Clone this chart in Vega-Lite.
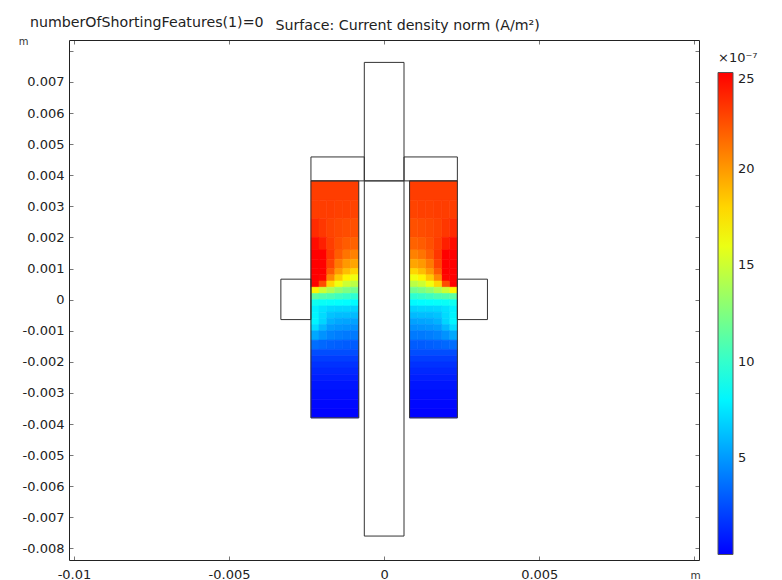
{"$schema":"https://vega.github.io/schema/vega-lite/v6.json","width":630,"height":520,"autosize":"none","padding":{"left":69,"top":40,"right":83,"bottom":20},"background":"white","view":{"stroke":null},
"title":{"text":"numberOfShortingFeatures(1)=0","anchor":"start","frame":"group","dx":-39,"dy":22,"offset":10,"font":"DejaVu Sans","fontSize":14.2,"fontWeight":"normal","color":"#222"},
"config":{"font":"DejaVu Sans"},
"layer":[
{"data":{"values":[
{"a":-0.00236,"b":-0.00082,"c":0.00382,"d":0.0032,"v":23},
{"a":-0.00236,"b":-0.0021,"c":0.0032,"d":0.0026,"v":23},{"a":-0.0021,"b":-0.00185,"c":0.0032,"d":0.0026,"v":23},{"a":-0.00185,"b":-0.00159,"c":0.0032,"d":0.0026,"v":23},{"a":-0.00159,"b":-0.00133,"c":0.0032,"d":0.0026,"v":22.9},{"a":-0.00133,"b":-0.00108,"c":0.0032,"d":0.0026,"v":22.9},{"a":-0.00108,"b":-0.00082,"c":0.0032,"d":0.0026,"v":22.8},
{"a":-0.00236,"b":-0.0021,"c":0.0026,"d":0.002,"v":23.6},{"a":-0.0021,"b":-0.00185,"c":0.0026,"d":0.002,"v":23.2},{"a":-0.00185,"b":-0.00159,"c":0.0026,"d":0.002,"v":22.8},{"a":-0.00159,"b":-0.00133,"c":0.0026,"d":0.002,"v":22.6},{"a":-0.00133,"b":-0.00108,"c":0.0026,"d":0.002,"v":22.5},{"a":-0.00108,"b":-0.00082,"c":0.0026,"d":0.002,"v":22.4},
{"a":-0.00236,"b":-0.0021,"c":0.002,"d":0.0016,"v":24.6},{"a":-0.0021,"b":-0.00185,"c":0.002,"d":0.0016,"v":24},{"a":-0.00185,"b":-0.00159,"c":0.002,"d":0.0016,"v":23},{"a":-0.00159,"b":-0.00133,"c":0.002,"d":0.0016,"v":22.4},{"a":-0.00133,"b":-0.00108,"c":0.002,"d":0.0016,"v":22},{"a":-0.00108,"b":-0.00082,"c":0.002,"d":0.0016,"v":21.8},
{"a":-0.00236,"b":-0.0021,"c":0.0016,"d":0.0013,"v":25},{"a":-0.0021,"b":-0.00185,"c":0.0016,"d":0.0013,"v":25},{"a":-0.00185,"b":-0.00159,"c":0.0016,"d":0.0013,"v":23.2},{"a":-0.00159,"b":-0.00133,"c":0.0016,"d":0.0013,"v":22},{"a":-0.00133,"b":-0.00108,"c":0.0016,"d":0.0013,"v":21.2},{"a":-0.00108,"b":-0.00082,"c":0.0016,"d":0.0013,"v":20.8},
{"a":-0.00236,"b":-0.0021,"c":0.0013,"d":0.001,"v":25},{"a":-0.0021,"b":-0.00185,"c":0.0013,"d":0.001,"v":25},{"a":-0.00185,"b":-0.00159,"c":0.0013,"d":0.001,"v":22.8},{"a":-0.00159,"b":-0.00133,"c":0.0013,"d":0.001,"v":21},{"a":-0.00133,"b":-0.00108,"c":0.0013,"d":0.001,"v":20},{"a":-0.00108,"b":-0.00082,"c":0.0013,"d":0.001,"v":19.6},
{"a":-0.00236,"b":-0.0021,"c":0.001,"d":0.0008,"v":25},{"a":-0.0021,"b":-0.00185,"c":0.001,"d":0.0008,"v":25},{"a":-0.00185,"b":-0.00159,"c":0.001,"d":0.0008,"v":22},{"a":-0.00159,"b":-0.00133,"c":0.001,"d":0.0008,"v":20},{"a":-0.00133,"b":-0.00108,"c":0.001,"d":0.0008,"v":18.8},{"a":-0.00108,"b":-0.00082,"c":0.001,"d":0.0008,"v":18},
{"a":-0.00236,"b":-0.0021,"c":0.0008,"d":0.0006,"v":25},{"a":-0.0021,"b":-0.00185,"c":0.0008,"d":0.0006,"v":24.8},{"a":-0.00185,"b":-0.00159,"c":0.0008,"d":0.0006,"v":20.6},{"a":-0.00159,"b":-0.00133,"c":0.0008,"d":0.0006,"v":18.4},{"a":-0.00133,"b":-0.00108,"c":0.0008,"d":0.0006,"v":17},{"a":-0.00108,"b":-0.00082,"c":0.0008,"d":0.0006,"v":16.2},
{"a":-0.00236,"b":-0.0021,"c":0.0006,"d":0.0004,"v":25},{"a":-0.0021,"b":-0.00185,"c":0.0006,"d":0.0004,"v":22.5},{"a":-0.00185,"b":-0.00159,"c":0.0006,"d":0.0004,"v":18},{"a":-0.00159,"b":-0.00133,"c":0.0006,"d":0.0004,"v":16.2},{"a":-0.00133,"b":-0.00108,"c":0.0006,"d":0.0004,"v":15},{"a":-0.00108,"b":-0.00082,"c":0.0006,"d":0.0004,"v":14.4},
{"a":-0.00236,"b":-0.0021,"c":0.0004,"d":0.0002,"v":17},{"a":-0.0021,"b":-0.00185,"c":0.0004,"d":0.0002,"v":15},{"a":-0.00185,"b":-0.00159,"c":0.0004,"d":0.0002,"v":14},{"a":-0.00159,"b":-0.00133,"c":0.0004,"d":0.0002,"v":13},{"a":-0.00133,"b":-0.00108,"c":0.0004,"d":0.0002,"v":12.4},{"a":-0.00108,"b":-0.00082,"c":0.0004,"d":0.0002,"v":12},
{"a":-0.00236,"b":-0.0021,"c":0.0002,"d":0,"v":11.4},{"a":-0.0021,"b":-0.00185,"c":0.0002,"d":0,"v":11},{"a":-0.00185,"b":-0.00159,"c":0.0002,"d":0,"v":10.8},{"a":-0.00159,"b":-0.00133,"c":0.0002,"d":0,"v":10.4},{"a":-0.00133,"b":-0.00108,"c":0.0002,"d":0,"v":10.1},{"a":-0.00108,"b":-0.00082,"c":0.0002,"d":0,"v":9.8},
{"a":-0.00236,"b":-0.0021,"c":0,"d":-0.0002,"v":8.8},{"a":-0.0021,"b":-0.00185,"c":0,"d":-0.0002,"v":8.6},{"a":-0.00185,"b":-0.00159,"c":0,"d":-0.0002,"v":8.5},{"a":-0.00159,"b":-0.00133,"c":0,"d":-0.0002,"v":8.4},{"a":-0.00133,"b":-0.00108,"c":0,"d":-0.0002,"v":8.3},{"a":-0.00108,"b":-0.00082,"c":0,"d":-0.0002,"v":8.2},
{"a":-0.00236,"b":-0.0021,"c":-0.0002,"d":-0.0004,"v":7.9},{"a":-0.0021,"b":-0.00185,"c":-0.0002,"d":-0.0004,"v":7.4},{"a":-0.00185,"b":-0.00159,"c":-0.0002,"d":-0.0004,"v":7.1},{"a":-0.00159,"b":-0.00133,"c":-0.0002,"d":-0.0004,"v":7},{"a":-0.00133,"b":-0.00108,"c":-0.0002,"d":-0.0004,"v":7},{"a":-0.00108,"b":-0.00082,"c":-0.0002,"d":-0.0004,"v":6.9},
{"a":-0.00236,"b":-0.0021,"c":-0.0004,"d":-0.0006,"v":8},{"a":-0.0021,"b":-0.00185,"c":-0.0004,"d":-0.0006,"v":7.2},{"a":-0.00185,"b":-0.00159,"c":-0.0004,"d":-0.0006,"v":6.4},{"a":-0.00159,"b":-0.00133,"c":-0.0004,"d":-0.0006,"v":6.2},{"a":-0.00133,"b":-0.00108,"c":-0.0004,"d":-0.0006,"v":6.2},{"a":-0.00108,"b":-0.00082,"c":-0.0004,"d":-0.0006,"v":6.1},
{"a":-0.00236,"b":-0.0021,"c":-0.0006,"d":-0.0008,"v":8},{"a":-0.0021,"b":-0.00185,"c":-0.0006,"d":-0.0008,"v":7},{"a":-0.00185,"b":-0.00159,"c":-0.0006,"d":-0.0008,"v":5.8},{"a":-0.00159,"b":-0.00133,"c":-0.0006,"d":-0.0008,"v":5.5},{"a":-0.00133,"b":-0.00108,"c":-0.0006,"d":-0.0008,"v":5.4},{"a":-0.00108,"b":-0.00082,"c":-0.0006,"d":-0.0008,"v":5.3},
{"a":-0.00236,"b":-0.0021,"c":-0.0008,"d":-0.001,"v":7.2},{"a":-0.0021,"b":-0.00185,"c":-0.0008,"d":-0.001,"v":6},{"a":-0.00185,"b":-0.00159,"c":-0.0008,"d":-0.001,"v":5.1},{"a":-0.00159,"b":-0.00133,"c":-0.0008,"d":-0.001,"v":4.9},{"a":-0.00133,"b":-0.00108,"c":-0.0008,"d":-0.001,"v":4.8},{"a":-0.00108,"b":-0.00082,"c":-0.0008,"d":-0.001,"v":4.7},
{"a":-0.00236,"b":-0.0021,"c":-0.001,"d":-0.0013,"v":5.5},{"a":-0.0021,"b":-0.00185,"c":-0.001,"d":-0.0013,"v":4.8},{"a":-0.00185,"b":-0.00159,"c":-0.001,"d":-0.0013,"v":4.3},{"a":-0.00159,"b":-0.00133,"c":-0.001,"d":-0.0013,"v":4.1},{"a":-0.00133,"b":-0.00108,"c":-0.001,"d":-0.0013,"v":4},{"a":-0.00108,"b":-0.00082,"c":-0.001,"d":-0.0013,"v":4},
{"a":-0.00236,"b":-0.0021,"c":-0.0013,"d":-0.0016,"v":3.6},{"a":-0.0021,"b":-0.00185,"c":-0.0013,"d":-0.0016,"v":3.4},{"a":-0.00185,"b":-0.00159,"c":-0.0013,"d":-0.0016,"v":3.2},{"a":-0.00159,"b":-0.00133,"c":-0.0013,"d":-0.0016,"v":3.1},{"a":-0.00133,"b":-0.00108,"c":-0.0013,"d":-0.0016,"v":3},{"a":-0.00108,"b":-0.00082,"c":-0.0013,"d":-0.0016,"v":3},
{"a":-0.00236,"b":-0.00082,"c":-0.0016,"d":-0.0018,"v":2.5},
{"a":-0.00236,"b":-0.00082,"c":-0.0018,"d":-0.002,"v":2},
{"a":-0.00236,"b":-0.00082,"c":-0.002,"d":-0.0022,"v":1.6},
{"a":-0.00236,"b":-0.00082,"c":-0.0022,"d":-0.0024,"v":1.3},
{"a":-0.00236,"b":-0.00082,"c":-0.0024,"d":-0.0026,"v":1},
{"a":-0.00236,"b":-0.00082,"c":-0.0026,"d":-0.0029,"v":0.7},
{"a":-0.00236,"b":-0.00082,"c":-0.0029,"d":-0.0032,"v":0.45},
{"a":-0.00236,"b":-0.00082,"c":-0.0032,"d":-0.0035,"v":0.25},
{"a":-0.00236,"b":-0.00082,"c":-0.0035,"d":-0.0038,"v":0.1},
{"a":0.00082,"b":0.00236,"c":0.00382,"d":0.0032,"v":23},
{"a":0.0021,"b":0.00236,"c":0.0032,"d":0.0026,"v":23},{"a":0.00185,"b":0.0021,"c":0.0032,"d":0.0026,"v":23},{"a":0.00159,"b":0.00185,"c":0.0032,"d":0.0026,"v":23},{"a":0.00133,"b":0.00159,"c":0.0032,"d":0.0026,"v":22.9},{"a":0.00108,"b":0.00133,"c":0.0032,"d":0.0026,"v":22.9},{"a":0.00082,"b":0.00108,"c":0.0032,"d":0.0026,"v":22.8},
{"a":0.0021,"b":0.00236,"c":0.0026,"d":0.002,"v":23.6},{"a":0.00185,"b":0.0021,"c":0.0026,"d":0.002,"v":23.2},{"a":0.00159,"b":0.00185,"c":0.0026,"d":0.002,"v":22.8},{"a":0.00133,"b":0.00159,"c":0.0026,"d":0.002,"v":22.6},{"a":0.00108,"b":0.00133,"c":0.0026,"d":0.002,"v":22.5},{"a":0.00082,"b":0.00108,"c":0.0026,"d":0.002,"v":22.4},
{"a":0.0021,"b":0.00236,"c":0.002,"d":0.0016,"v":24.6},{"a":0.00185,"b":0.0021,"c":0.002,"d":0.0016,"v":24},{"a":0.00159,"b":0.00185,"c":0.002,"d":0.0016,"v":23},{"a":0.00133,"b":0.00159,"c":0.002,"d":0.0016,"v":22.4},{"a":0.00108,"b":0.00133,"c":0.002,"d":0.0016,"v":22},{"a":0.00082,"b":0.00108,"c":0.002,"d":0.0016,"v":21.8},
{"a":0.0021,"b":0.00236,"c":0.0016,"d":0.0013,"v":25},{"a":0.00185,"b":0.0021,"c":0.0016,"d":0.0013,"v":25},{"a":0.00159,"b":0.00185,"c":0.0016,"d":0.0013,"v":23.2},{"a":0.00133,"b":0.00159,"c":0.0016,"d":0.0013,"v":22},{"a":0.00108,"b":0.00133,"c":0.0016,"d":0.0013,"v":21.2},{"a":0.00082,"b":0.00108,"c":0.0016,"d":0.0013,"v":20.8},
{"a":0.0021,"b":0.00236,"c":0.0013,"d":0.001,"v":25},{"a":0.00185,"b":0.0021,"c":0.0013,"d":0.001,"v":25},{"a":0.00159,"b":0.00185,"c":0.0013,"d":0.001,"v":22.8},{"a":0.00133,"b":0.00159,"c":0.0013,"d":0.001,"v":21},{"a":0.00108,"b":0.00133,"c":0.0013,"d":0.001,"v":20},{"a":0.00082,"b":0.00108,"c":0.0013,"d":0.001,"v":19.6},
{"a":0.0021,"b":0.00236,"c":0.001,"d":0.0008,"v":25},{"a":0.00185,"b":0.0021,"c":0.001,"d":0.0008,"v":25},{"a":0.00159,"b":0.00185,"c":0.001,"d":0.0008,"v":22},{"a":0.00133,"b":0.00159,"c":0.001,"d":0.0008,"v":20},{"a":0.00108,"b":0.00133,"c":0.001,"d":0.0008,"v":18.8},{"a":0.00082,"b":0.00108,"c":0.001,"d":0.0008,"v":18},
{"a":0.0021,"b":0.00236,"c":0.0008,"d":0.0006,"v":25},{"a":0.00185,"b":0.0021,"c":0.0008,"d":0.0006,"v":24.8},{"a":0.00159,"b":0.00185,"c":0.0008,"d":0.0006,"v":20.6},{"a":0.00133,"b":0.00159,"c":0.0008,"d":0.0006,"v":18.4},{"a":0.00108,"b":0.00133,"c":0.0008,"d":0.0006,"v":17},{"a":0.00082,"b":0.00108,"c":0.0008,"d":0.0006,"v":16.2},
{"a":0.0021,"b":0.00236,"c":0.0006,"d":0.0004,"v":25},{"a":0.00185,"b":0.0021,"c":0.0006,"d":0.0004,"v":22.5},{"a":0.00159,"b":0.00185,"c":0.0006,"d":0.0004,"v":18},{"a":0.00133,"b":0.00159,"c":0.0006,"d":0.0004,"v":16.2},{"a":0.00108,"b":0.00133,"c":0.0006,"d":0.0004,"v":15},{"a":0.00082,"b":0.00108,"c":0.0006,"d":0.0004,"v":14.4},
{"a":0.0021,"b":0.00236,"c":0.0004,"d":0.0002,"v":17},{"a":0.00185,"b":0.0021,"c":0.0004,"d":0.0002,"v":15},{"a":0.00159,"b":0.00185,"c":0.0004,"d":0.0002,"v":14},{"a":0.00133,"b":0.00159,"c":0.0004,"d":0.0002,"v":13},{"a":0.00108,"b":0.00133,"c":0.0004,"d":0.0002,"v":12.4},{"a":0.00082,"b":0.00108,"c":0.0004,"d":0.0002,"v":12},
{"a":0.0021,"b":0.00236,"c":0.0002,"d":0,"v":11.4},{"a":0.00185,"b":0.0021,"c":0.0002,"d":0,"v":11},{"a":0.00159,"b":0.00185,"c":0.0002,"d":0,"v":10.8},{"a":0.00133,"b":0.00159,"c":0.0002,"d":0,"v":10.4},{"a":0.00108,"b":0.00133,"c":0.0002,"d":0,"v":10.1},{"a":0.00082,"b":0.00108,"c":0.0002,"d":0,"v":9.8},
{"a":0.0021,"b":0.00236,"c":0,"d":-0.0002,"v":8.8},{"a":0.00185,"b":0.0021,"c":0,"d":-0.0002,"v":8.6},{"a":0.00159,"b":0.00185,"c":0,"d":-0.0002,"v":8.5},{"a":0.00133,"b":0.00159,"c":0,"d":-0.0002,"v":8.4},{"a":0.00108,"b":0.00133,"c":0,"d":-0.0002,"v":8.3},{"a":0.00082,"b":0.00108,"c":0,"d":-0.0002,"v":8.2},
{"a":0.0021,"b":0.00236,"c":-0.0002,"d":-0.0004,"v":7.9},{"a":0.00185,"b":0.0021,"c":-0.0002,"d":-0.0004,"v":7.4},{"a":0.00159,"b":0.00185,"c":-0.0002,"d":-0.0004,"v":7.1},{"a":0.00133,"b":0.00159,"c":-0.0002,"d":-0.0004,"v":7},{"a":0.00108,"b":0.00133,"c":-0.0002,"d":-0.0004,"v":7},{"a":0.00082,"b":0.00108,"c":-0.0002,"d":-0.0004,"v":6.9},
{"a":0.0021,"b":0.00236,"c":-0.0004,"d":-0.0006,"v":8},{"a":0.00185,"b":0.0021,"c":-0.0004,"d":-0.0006,"v":7.2},{"a":0.00159,"b":0.00185,"c":-0.0004,"d":-0.0006,"v":6.4},{"a":0.00133,"b":0.00159,"c":-0.0004,"d":-0.0006,"v":6.2},{"a":0.00108,"b":0.00133,"c":-0.0004,"d":-0.0006,"v":6.2},{"a":0.00082,"b":0.00108,"c":-0.0004,"d":-0.0006,"v":6.1},
{"a":0.0021,"b":0.00236,"c":-0.0006,"d":-0.0008,"v":8},{"a":0.00185,"b":0.0021,"c":-0.0006,"d":-0.0008,"v":7},{"a":0.00159,"b":0.00185,"c":-0.0006,"d":-0.0008,"v":5.8},{"a":0.00133,"b":0.00159,"c":-0.0006,"d":-0.0008,"v":5.5},{"a":0.00108,"b":0.00133,"c":-0.0006,"d":-0.0008,"v":5.4},{"a":0.00082,"b":0.00108,"c":-0.0006,"d":-0.0008,"v":5.3},
{"a":0.0021,"b":0.00236,"c":-0.0008,"d":-0.001,"v":7.2},{"a":0.00185,"b":0.0021,"c":-0.0008,"d":-0.001,"v":6},{"a":0.00159,"b":0.00185,"c":-0.0008,"d":-0.001,"v":5.1},{"a":0.00133,"b":0.00159,"c":-0.0008,"d":-0.001,"v":4.9},{"a":0.00108,"b":0.00133,"c":-0.0008,"d":-0.001,"v":4.8},{"a":0.00082,"b":0.00108,"c":-0.0008,"d":-0.001,"v":4.7},
{"a":0.0021,"b":0.00236,"c":-0.001,"d":-0.0013,"v":5.5},{"a":0.00185,"b":0.0021,"c":-0.001,"d":-0.0013,"v":4.8},{"a":0.00159,"b":0.00185,"c":-0.001,"d":-0.0013,"v":4.3},{"a":0.00133,"b":0.00159,"c":-0.001,"d":-0.0013,"v":4.1},{"a":0.00108,"b":0.00133,"c":-0.001,"d":-0.0013,"v":4},{"a":0.00082,"b":0.00108,"c":-0.001,"d":-0.0013,"v":4},
{"a":0.0021,"b":0.00236,"c":-0.0013,"d":-0.0016,"v":3.6},{"a":0.00185,"b":0.0021,"c":-0.0013,"d":-0.0016,"v":3.4},{"a":0.00159,"b":0.00185,"c":-0.0013,"d":-0.0016,"v":3.2},{"a":0.00133,"b":0.00159,"c":-0.0013,"d":-0.0016,"v":3.1},{"a":0.00108,"b":0.00133,"c":-0.0013,"d":-0.0016,"v":3},{"a":0.00082,"b":0.00108,"c":-0.0013,"d":-0.0016,"v":3},
{"a":0.00082,"b":0.00236,"c":-0.0016,"d":-0.0018,"v":2.5},
{"a":0.00082,"b":0.00236,"c":-0.0018,"d":-0.002,"v":2},
{"a":0.00082,"b":0.00236,"c":-0.002,"d":-0.0022,"v":1.6},
{"a":0.00082,"b":0.00236,"c":-0.0022,"d":-0.0024,"v":1.3},
{"a":0.00082,"b":0.00236,"c":-0.0024,"d":-0.0026,"v":1},
{"a":0.00082,"b":0.00236,"c":-0.0026,"d":-0.0029,"v":0.7},
{"a":0.00082,"b":0.00236,"c":-0.0029,"d":-0.0032,"v":0.45},
{"a":0.00082,"b":0.00236,"c":-0.0032,"d":-0.0035,"v":0.25},
{"a":0.00082,"b":0.00236,"c":-0.0035,"d":-0.0038,"v":0.1}
]},
"mark":{"type":"rect","strokeWidth":0.6,"stroke":{"expr":"scale('color',datum.v)"}},
"encoding":{
"x":{"field":"a","type":"quantitative","scale":{"domain":[-0.01016,0.01015],"nice":false,"zero":false},"axis":{"orient":"bottom","values":[-0.01,-0.005,0,0.005,0.01],"grid":false,"format":".3~f","labelExpr":"datum.value==0.01?'':replace(datum.label,'−','-')","labelFont":"DejaVu Sans","labelFontSize":13,"labelColor":"#222","labelPadding":12,"tickSize":-4,"tickColor":"#777","domainColor":"#222","title":"m","titleFont":"DejaVu Sans","titleFontSize":10.5,"titleFontWeight":"normal","titleColor":"#333","titleX":626,"titleY":15,"titleBaseline":"middle","titleAlign":"center"}},
"x2":{"field":"b"},
"y":{"field":"c","type":"quantitative","scale":{"domain":[-0.00837,0.00835],"nice":false,"zero":false},"axis":{"orient":"left","values":[-0.008,-0.007,-0.006,-0.005,-0.004,-0.003,-0.002,-0.001,0,0.001,0.002,0.003,0.004,0.005,0.006,0.007,0.008],"grid":false,"format":".3~f","labelExpr":"datum.value==0.008?'':replace(datum.label,'−','-')","labelFont":"DejaVu Sans","labelFontSize":13,"labelColor":"#222","labelPadding":9,"tickSize":-4,"tickColor":"#777","domainColor":"#222","title":"m","titleFont":"DejaVu Sans","titleFontSize":10,"titleFontWeight":"normal","titleColor":"#333","titleAngle":0,"titleX":-46,"titleY":6,"titleAlign":"center"}},
"y2":{"field":"d"},
"color":{"field":"v","type":"quantitative","scale":{"domain":[0,8.33,16.67,25],"range":["#0000ff","#00ffff","#ffff00","#ff0000"],"interpolate":"rgb"},"legend":{"type":"gradient","orient":"none","legendX":649,"legendY":11.5,"values":[5,10,15,20,25],"gradientLength":482,"gradientThickness":15,"gradientStrokeColor":"#555","gradientStrokeWidth":1,"labelFont":"DejaVu Sans","labelFontSize":13,"labelColor":"#222","labelOffset":5,"title":"\u00a0\u00a0\u00a0×10⁻⁷","titleFont":"DejaVu Sans","titleFontSize":13,"titleFontWeight":"normal","titleColor":"#222","titleAnchor":"start","titleAlign":"left","titlePadding":8}}
}},
{"data":{"values":[
{"a":-0.00064,"b":0.00064,"c":0.00763,"d":0.00382},
{"a":-0.00064,"b":0.00064,"c":0.00382,"d":-0.0076},
{"a":-0.00236,"b":-0.00064,"c":0.00459,"d":0.00382},
{"a":0.00064,"b":0.00236,"c":0.00459,"d":0.00382},
{"a":-0.00333,"b":-0.00236,"c":0.00066,"d":-0.00064},
{"a":0.00236,"b":0.00333,"c":0.00066,"d":-0.00064},
{"a":-0.00236,"b":-0.00082,"c":0.00382,"d":-0.0038},
{"a":0.00082,"b":0.00236,"c":0.00382,"d":-0.0038}
]},
"mark":{"type":"rect","fillOpacity":0,"stroke":"#333","strokeWidth":1},
"encoding":{
"x":{"field":"a","type":"quantitative","scale":{"domain":[-0.01016,0.01015],"nice":false,"zero":false},"axis":{"orient":"top","values":[-0.01,-0.005,0,0.005,0.01],"grid":false,"labels":false,"tickSize":-4,"tickColor":"#777","domainColor":"#222","title":"Surface: Current density norm (A/m²)","titleFont":"DejaVu Sans","titleFontSize":14.2,"titleFontWeight":"normal","titleColor":"#222","titleX":206,"titleY":-8,"titleAlign":"left"}},
"x2":{"field":"b"},
"y":{"field":"c","type":"quantitative","scale":{"domain":[-0.00837,0.00835],"nice":false,"zero":false},"axis":{"orient":"right","values":[-0.008,-0.007,-0.006,-0.005,-0.004,-0.003,-0.002,-0.001,0,0.001,0.002,0.003,0.004,0.005,0.006,0.007,0.008],"grid":false,"labels":false,"tickSize":-4,"tickColor":"#777","domainColor":"#222","title":null}},
"y2":{"field":"d"}
}}
],
"resolve":{"axis":{"x":"independent","y":"independent"}}
}
